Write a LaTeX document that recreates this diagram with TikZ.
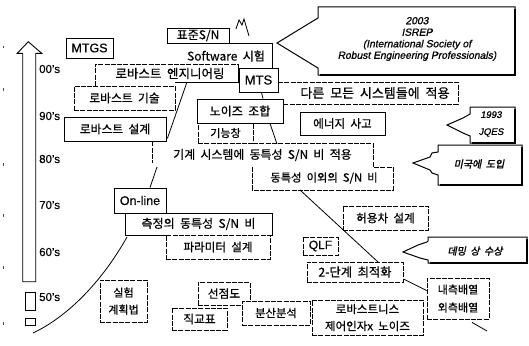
\documentclass[tikz,border=0pt]{standalone}
\usepackage{fontspec}
\setmainfont{Liberation Sans}
\newfontfamily\lat[FakeBold=0.5]{Liberation Sans}
\newfontfamily\latit[FakeBold=0.9,FakeSlant=0.2]{Liberation Sans}
\newfontfamily\kr[WordSpace=2,FakeBold=0.6]{Noto Sans CJK KR}
\newfontfamily\krbi[WordSpace=2,FakeSlant=0.2,FakeBold=1.8]{Noto Sans CJK KR}
\newcommand\fsz[1]{\fontsize{#1}{#1}\selectfont}
\begin{document}
\begin{tikzpicture}[x=1pt,y=-1pt,
  sbox/.style={draw, line width=0.8pt, inner sep=0pt},
  dbox/.style={sbox, dash pattern=on 5pt off 1.3pt},
  txt/.style={inner sep=0pt},
  edge/.style={line width=0.8pt},
  dedge/.style={line width=0.8pt, dash pattern=on 5pt off 1.3pt},
  cbox/.style={draw, line width=1pt, fill=white},
  shad/.style={line width=2pt},
  yr/.style={txt, font=\lat\fsz{11.5}, anchor=west},
  speck/.style={fill=black!70}]
\useasboundingbox (0,0) rectangle (529,345);

% scan specks at the left margin
\foreach \yy in {46,88,163,214,266,322} \fill[speck] (2.5,\yy) rectangle (3.7,\yy+2.5);

% time axis
\draw[line width=0.9pt] (22.7,281.7) -- (22.7,53.3) -- (17.3,53.3) -- (28.3,41.7)
  -- (41.7,53.3) -- (35.7,53.3) -- (35.7,281.7) -- cycle;
\draw[line width=0.9pt] (25,292) rectangle (35,310);
\draw[line width=0.9pt] (25,318) rectangle (35,325);
\node[yr] (y00) at (39,69) {00’s};
\node[yr] (y90) at (39,116) {90’s};
\node[yr] (y80) at (39,159) {80’s};
\node[yr] (y70) at (39,205) {70’s};
\node[yr] (y60) at (39,252) {60’s};
\node[yr] (y50) at (39,297) {50’s};

% long curve behind the experiment box
\coordinate (cv0) at (33,333);
\coordinate (cv1) at (127,237);
\draw[edge] (cv0) .. controls (65,318) and (100,285) .. (cv1);
\node[dbox, fill=white, minimum width=47pt, minimum height=42pt, align=center,
  font=\kr\fontsize{11}{17}\selectfont] (exp) at (123.5,301) {실험\\계획법};

% upper left boxes
\node[sbox, minimum width=47pt, minimum height=20pt, font=\lat\fsz{12.5}] (mtgs) at (89.5,48) {MTGS};
\draw[dedge] (95,86) -- (95,64) -- (238,64);
\node[txt, font=\kr\fsz{12.5}] (eng) at (170,73.5) {로바스트 엔지니어링};
\draw[edge] (238,64) -- (238,82) -- (175,82);
\node[dbox, minimum width=101pt, minimum height=24pt, font=\kr\fsz{11.8}] (tech) at (124.5,98) {로바스트 기술};
\node[sbox, minimum width=102pt, minimum height=24pt, font=\kr\fsz{11.8}] (rdes) at (115,129) {로바스트 설계};
\coordinate (e1) at (187,82);
\draw[edge] (rdes.south east) ++(1,-3) -- (e1);
\coordinate (d1) at (152,163);
\draw[dedge] (rdes.south) ++(37,0) -- (d1);

% top middle
\draw[edge] (236,29) -- (239,20) -- (242,25) -- (244,19) -- (249,36);
\node[sbox, minimum width=62pt, minimum height=15pt, font=\kr\fsz{12}] (std) at (198,35.5) {표준S/N};
\draw[edge] (229,43) -- (272,43) -- (272,68);
\node[txt, font=\kr\fsz{12}] (sw) at (226,56) {Software 시험};
\node[sbox, line width=1pt, minimum width=39pt, minimum height=24pt, font=\lat\fsz{13}] (mts) at (258.5,80) {MTS};
\draw[dedge] (278,82) -- (458,82) -- (458,104) -- (282,104);
\node[txt, font=\kr\fsz{13}] (all) at (375,93) {다른 모든 시스템들에 적용};
\node[sbox, fill=white, minimum width=86pt, minimum height=24pt, font=\kr\fsz{12}] (noise) at (240,111) {노이즈 조합};
\draw[edge] (mts.south) ++(3,0) -- ([xshift=23pt]noise.north);
\node[dbox, minimum width=55pt, minimum height=20pt, font=\kr\fsz{11}] (func) at (225.5,133) {기능창};
\node[sbox, minimum width=85pt, minimum height=23pt, font=\kr\fsz{11.6}] (energy) at (342.5,123.5) {에너지 사고};
\draw[dedge] (253,143) -- (373,143) -- (373,167) -- (393,167) -- (393,190) -- (252,190) -- (252,167);
\node[txt, font=\kr\fsz{11.9}] (mech) at (262.5,155) {기계 시스템에 동특성 S/N 비 적용};
\draw[edge] ([xshift=30pt]noise.south) -- (277,144);
\node[txt, font=\kr\fsz{11.3}] (other) at (324,178) {동특성 이외의 S/N 비};

% middle left
\node[sbox, minimum width=52pt, minimum height=25pt, font=\lat\fsz{12.5}] (online) at (140,200.5) {On-line};
\coordinate (o1) at (157,167);
\draw[edge] ([xshift=10pt]online.north) -- (o1);
\node[sbox, minimum width=147pt, minimum height=22pt, font=\kr\fsz{12}] (meas) at (198.5,224) {측정의 동특성 S/N 비};
\node[dbox, fill=white, minimum width=104pt, minimum height=24pt, font=\kr\fsz{11.6}] (param) at (218,247) {파라미터 설계};

% right middle
\coordinate (a2) at (300,190);
\coordinate (a3) at (378,262);
\draw[edge] (a2) -- (a3);
\node[dbox, fill=white, minimum width=85pt, minimum height=24pt, font=\kr\fsz{11.6}] (tol) at (385.5,218) {허용차 설계};
\node[dbox, minimum width=35pt, minimum height=18pt, font=\lat\fsz{12}] (qlf) at (320.5,246) {QLF};
\node[dbox, fill=white, minimum width=96pt, minimum height=20pt, font=\kr\fsz{12.3}] (two) at (355,272) {2-단계 최적화};
\node[dbox, minimum width=62pt, minimum height=41pt, align=center,
  font=\kr\fontsize{11}{18}\selectfont] (arr) at (458,298.5) {내측배열\\외측배열};
\draw[edge] ([yshift=-7pt]two.east) -- ([yshift=-13pt]arr.north west);
\coordinate (t1) at (487,331);
\draw[edge] ([xshift=14pt,yshift=-3pt]arr.south) -- (t1);

% bottom
\node[dbox, fill=white, minimum width=52pt, minimum height=23pt, font=\kr\fsz{11.7}] (scat) at (224,293.5) {선점도};
\node[dbox, minimum width=55pt, minimum height=22pt, font=\kr\fsz{11.7}] (orth) at (199.5,319) {직교표};
\node[dbox, fill=white, minimum width=68pt, minimum height=24pt, font=\kr\fsz{11.3}] (anova) at (276,313) {분산분석};
\node[dbox, minimum width=111pt, minimum height=35pt, align=center,
  font=\kr\fontsize{11.5}{17}\selectfont] (robn) at (367.5,317.5) {로바스트니스\\제어인자x 노이즈};

% callouts
\draw[cbox] (318,7) -- (515,7) -- (515,75) -- (318,75) -- (318,68) -- (313,65)
  -- (277,43) -- (313,21) -- (318,18) -- cycle;
\draw[shad] (515,9) -- (515,75) -- (320,75);
\node[txt, align=center, font=\latit\fontsize{10.3}{11.5}\selectfont] (isrep) at (417,39)
  {2003\\ISREP\\(International Society of\\Robust Engineering Professionals)};

\draw[cbox] (470,107) -- (515,107) -- (515,143) -- (470,143) -- (470,136) -- (463,133)
  -- (447,125) -- (463,118) -- (470,114) -- cycle;
\draw[shad] (515,109) -- (515,143) -- (472,143);
\node[txt, align=center, font=\latit\fontsize{9.5}{17}\selectfont] (jq) at (491,124) {1993\\JQES};

\draw[cbox] (438,145) -- (522,145) -- (522,185) -- (438,185) -- (438,175) -- (432,173)
  -- (430,170) -- (413,163) -- (430,157) -- (432,153) -- (438,152) -- cycle;
\draw[shad] (522,147) -- (522,185) -- (440,185);
\node[txt, font=\krbi\fsz{10}] (usa) at (479,164) {미국에 도입};

\draw[cbox] (428,237) -- (527,237) -- (527,263) -- (428,263) -- (428,260) -- (420,258)
  -- (403,252) -- (418,245) -- (427,242) -- (428,241) -- cycle;
\draw[shad] (527,239) -- (527,263) -- (430,263);
\node[txt, font=\krbi\fsz{10}] (dem) at (475,251) {데밍 상 수상};
\end{tikzpicture}
\end{document}
